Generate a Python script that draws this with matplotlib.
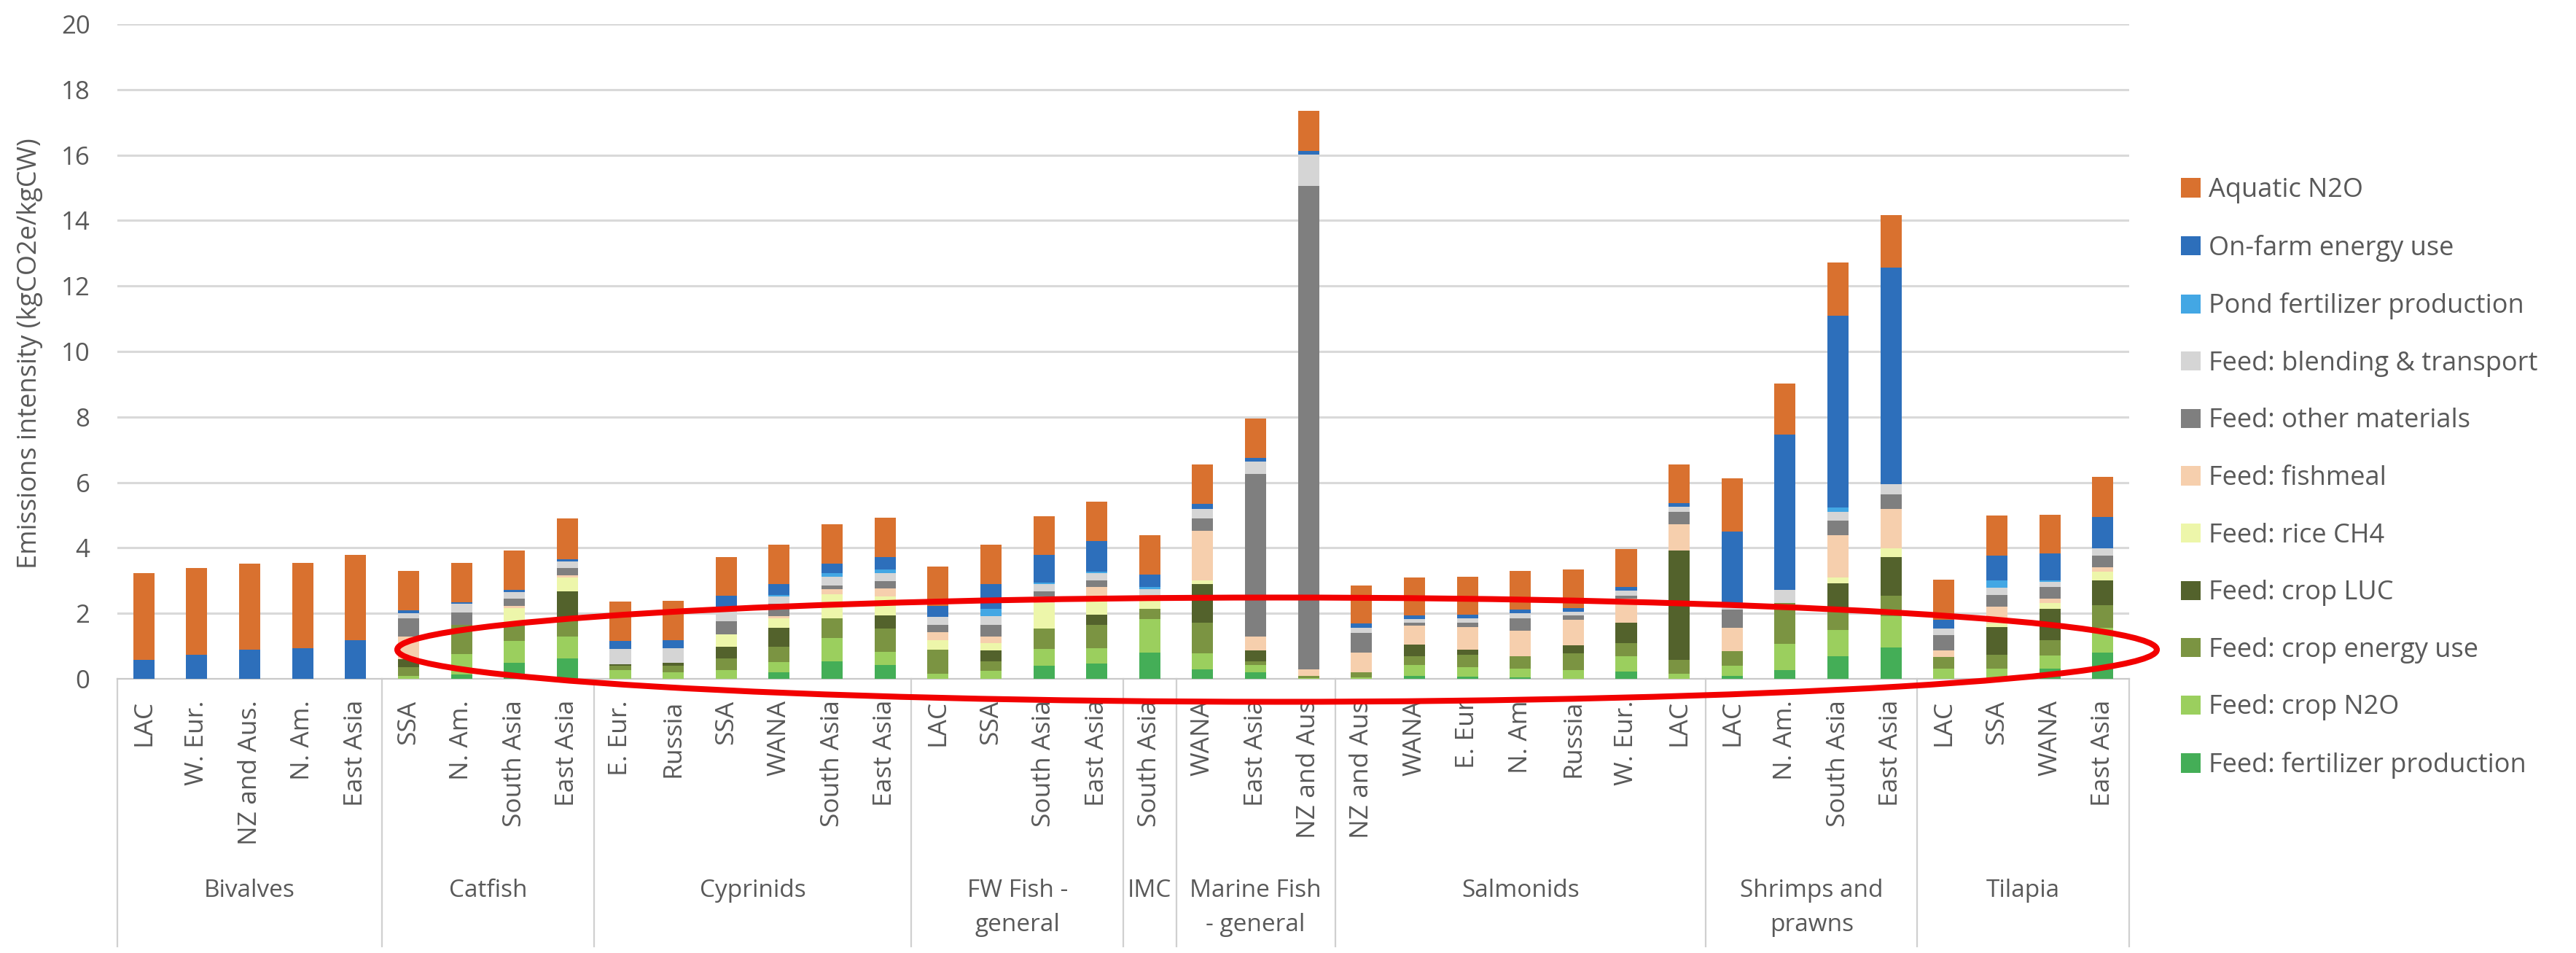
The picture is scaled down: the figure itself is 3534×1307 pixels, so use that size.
import matplotlib
matplotlib.use("Agg")
import matplotlib.pyplot as plt
import numpy as np
from matplotlib.patches import Ellipse
from matplotlib.lines import Line2D
from matplotlib.transforms import blended_transform_factory

plt.rcParams['font.family'] = ['Open Sans', 'DejaVu Sans']

# ---- categories ----
groups = ["Bivalves", "Catfish", "Cyprinids", "FW Fish -\ngeneral", "IMC",
          "Marine Fish\n- general", "Salmonids", "Shrimps and\nprawns", "Tilapia"]
group_sizes = [5, 4, 6, 4, 1, 3, 7, 4, 4]
regions = ["LAC", "W. Eur.", "NZ and Aus.", "N. Am.", "East Asia",
           "SSA", "N. Am.", "South Asia", "East Asia",
           "E. Eur.", "Russia", "SSA", "WANA", "South Asia", "East Asia",
           "LAC", "SSA", "South Asia", "East Asia",
           "South Asia",
           "WANA", "East Asia", "NZ and Aus",
           "NZ and Aus", "WANA", "E. Eur", "N. Am", "Russia", "W. Eur.", "LAC",
           "LAC", "N. Am.", "South Asia", "East Asia",
           "LAC", "SSA", "WANA", "East Asia"]

# ---- emission components (kgCO2e/kgCW), stacked bottom to top ----
fert_prod = [0, 0, 0, 0, 0,
             0, .13, .48, .63,
             0, 0, 0, .19, .54, .42,
             0, 0, .41, .46,
             .80,
             .28, .19, 0,
             0, .09, .07, .05, 0, .22, 0,
             .08, .27, .68, .96,
             0, 0, .31, .81]
crop_n2o = [0, 0, 0, 0, 0,
            .09, .63, .68, .67,
            .26, .20, .26, .33, .71, .41,
            .16, .24, .50, .48,
            1.03,
            .51, .24, .03,
            .05, .33, .29, .26, .26, .47, .16,
            .31, .81, .82, .95,
            .31, .31, .40, .75]
crop_energy = [0, 0, 0, 0, 0,
               .26, .89, .46, .45,
               .14, .19, .37, .47, .60, .71,
               .72, .30, .63, .71,
               .30,
               .92, .11, .06,
               .15, .26, .37, .39, .52, .41, .41,
               .45, 1.23, .69, .64,
               .35, .42, .48, .68]
crop_luc = [0, 0, 0, 0, 0,
            .26, 0, 0, .92,
            .04, .09, .35, .56, 0, .39,
            0, .33, 0, .30,
            0,
            1.18, .33, 0,
            0, .37, .15, 0, .25, .61, 3.36,
            0, 0, .72, 1.16,
            0, .85, .95, .77]
rice_ch4 = [0, 0, 0, 0, 0,
            0, 0, .54, .42,
            0, 0, .37, .30, .74, .58,
            .30, .22, .78, .60,
            .44,
            .11, 0, 0,
            0, 0, 0, 0, 0, 0, 0,
            0, 0, .18, .27,
            0, .12, .18, .27]
fishmeal = [0, 0, 0, 0, 0,
            .69, 0, .07, .07,
            0, 0, 0, .06, .16, .26,
            .25, .21, .19, .25,
            0,
            1.53, .43, .19,
            .60, .57, .71, .76, .77, .73, .79,
            .72, 0, 1.29, 1.21,
            .21, .50, .14, .13]
other_mat = [0, 0, 0, 0, 0,
             .55, .37, .21, .22,
             0, 0, .41, .39, .10, .22,
             .22, .35, .16, .20,
             0,
             .36, 4.96, 14.78,
             .61, .10, .13, .39, .13, .11, .37,
             .56, 0, .46, .44,
             .46, .36, .35, .35]
blending = [0, 0, 0, 0, 0,
            .15, .27, .22, .21,
            .48, .45, .45, .22, .26, .25,
            .25, .26, .22, .22,
            .17,
            .30, .37, .95,
            .15, .11, .13, .16, .13, .15, .16,
            .19, .40, .27, .31,
            .20, .22, .15, .23]
pond_fert = [0, 0, 0, 0, 0,
             0, 0, 0, 0,
             0, 0, 0, .05, .11, .10,
             0, .22, .06, .05,
             .06,
             0, 0, 0,
             0, 0, 0, 0, 0, 0, 0,
             0, 0, .13, 0,
             0, .22, .05, 0]
onfarm_energy = [.57, .74, .89, .93, 1.17,
                 .10, .05, .06, .07,
                 .24, .24, .33, .33, .30, .37,
                 .33, .76, .83, .94,
                 .39,
                 .16, .11, .12,
                 .13, .11, .11, .11, .11, .11, .11,
                 2.19, 4.74, 5.86, 6.62,
                 .28, .77, .82, .95]
aquatic_n2o = [2.67, 2.65, 2.64, 2.62, 2.62,
               1.19, 1.21, 1.21, 1.23,
               1.21, 1.21, 1.19, 1.20, 1.20, 1.21,
               1.20, 1.20, 1.18, 1.21,
               1.19,
               1.19, 1.21, 1.21,
               1.15, 1.15, 1.16, 1.17, 1.17, 1.15, 1.19,
               1.62, 1.57, 1.61, 1.61,
               1.21, 1.21, 1.18, 1.22]

series = [
    ("Feed: fertilizer production", fert_prod, "#44AE57"),
    ("Feed: crop N2O", crop_n2o, "#9BCF5E"),
    ("Feed: crop energy use", crop_energy, "#7B9442"),
    ("Feed: crop LUC", crop_luc, "#53622C"),
    ("Feed: rice CH4", rice_ch4, "#EDF6AA"),
    ("Feed: fishmeal", fishmeal, "#F6CFAD"),
    ("Feed: other materials", other_mat, "#7F7F7F"),
    ("Feed: blending & transport", blending, "#D5D5D5"),
    ("Pond fertilizer production", pond_fert, "#43A7E4"),
    ("On-farm energy use", onfarm_energy, "#2D6FBB"),
    ("Aquatic N2O", aquatic_n2o, "#D9712F"),
]

W, H = 3534, 1307
fig = plt.figure(figsize=(W / 100, H / 100), dpi=100)
ax = fig.add_axes([161 / W, 1 - 931 / H, (2921 - 161) / W, (931 - 33) / H])

x = np.arange(len(regions))
bottom = np.zeros(len(regions))
handles = []
for name, vals, col in series:
    v = np.array(vals, dtype=float)
    b = ax.bar(x, v, width=0.4, bottom=bottom, color=col, label=name,
               linewidth=0, zorder=3)
    handles.append(b)
    bottom += v

ax.set_xlim(-0.5, len(regions) - 0.5)
ax.set_ylim(0, 20)
ax.set_yticks(range(0, 21, 2))
ax.yaxis.grid(True, color="#D9D9D9", linewidth=2.2)
ax.set_axisbelow(True)
for s in ("left", "top", "right"):
    ax.spines[s].set_visible(False)
ax.spines["bottom"].set_color("#C9C9C9")
ax.spines["bottom"].set_linewidth(1.6)

text_col = "#595959"
ax.tick_params(axis="y", length=0, pad=27, labelsize=25, labelcolor=text_col)
ax.set_xticks(x)
ax.set_xticklabels(regions, rotation=90)
ax.tick_params(axis="x", length=0, pad=21, labelsize=25.5, labelcolor=text_col)

fig.text(41 / W, 1 - 485 / H, "Emissions intensity (kgCO2e/kgCW)", rotation=90,
         ha="center", va="center", fontsize=26, color=text_col)

# multi-level category axis: separators and group names
tr = blended_transform_factory(ax.transData, fig.transFigure)
edges = np.concatenate([[0], np.cumsum(group_sizes)]) - 0.5
for e in edges:
    ax.add_line(Line2D([e, e], [1 - 931 / H, 1 - 1298 / H], transform=tr,
                       color="#D0D0D0", linewidth=1.6, clip_on=False))
for g, lo, hi in zip(groups, edges[:-1], edges[1:]):
    for i, line in enumerate(g.split("\n")):
        ax.text((lo + hi) / 2, 1 - (1230 + 47 * i) / H, line, transform=tr,
                ha="center", va="baseline", fontsize=24, color=text_col)

leg = ax.legend(handles[::-1], [h.get_label() for h in handles[::-1]],
                loc="upper left", bbox_to_anchor=(2992 / W, 1 - 243 / H),
                bbox_transform=fig.transFigure, frameon=False, fontsize=26,
                handlelength=0.74, handleheight=0.74, handletextpad=0.3,
                labelspacing=1.18, borderpad=0, borderaxespad=0,
                labelcolor=text_col)

# highlight ring around the feed components
ring = Ellipse((1752 / W, 1 - 891 / H), width=2414 / W, height=143 / H,
               transform=fig.transFigure, fill=False, edgecolor="#F20000",
               linewidth=5.8, zorder=10)
fig.add_artist(ring)

fig.savefig("out.png", dpi=100, facecolor="white")
